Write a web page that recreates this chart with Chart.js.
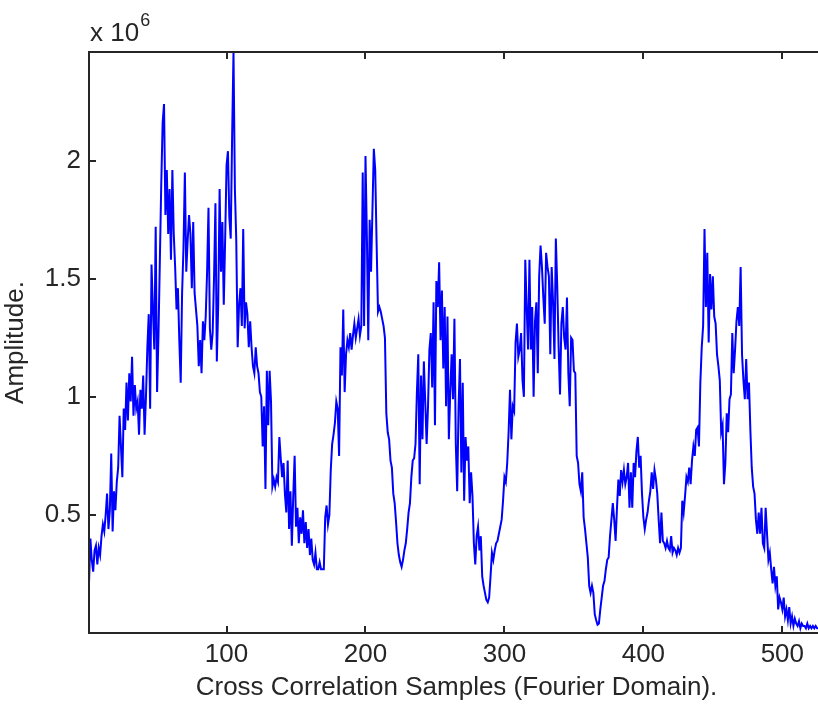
<!DOCTYPE html>
<html>
<head>
<meta charset="utf-8">
<script src="https://cdn.jsdelivr.net/npm/chart.js@4"></script>
<style>
  html, body { margin: 0; padding: 0; background: #fff; overflow: hidden; }
  canvas { display: block; }
</style>
</head>
<body>
<canvas id="xcorr" width="824" height="705"></canvas>
<script>
// Cross correlation amplitude per sample, in units of 10^6
const amplitude = [
  0.21, 0.40, 0.31, 0.26, 0.35, 0.37, 0.29, 0.36, 0.33, 0.41,
  0.46, 0.43, 0.50, 0.59, 0.44, 0.52, 0.76, 0.43, 0.60, 0.52,
  0.64, 0.70, 0.92, 0.79, 0.66, 0.95, 0.86, 1.06, 0.90, 1.10,
  0.98, 1.17, 0.92, 1.05, 0.95, 0.98, 0.84, 1.03, 0.95, 1.09,
  0.84, 1.00, 1.21, 1.35, 0.95, 1.56, 1.37, 1.20, 1.72, 1.02,
  1.26, 1.58, 1.90, 2.16, 2.24, 1.77, 1.96, 1.69, 1.88, 1.58,
  1.96, 1.69, 1.55, 1.37, 1.46, 1.24, 1.06, 1.44, 1.63, 1.95,
  1.53, 1.66, 1.77, 1.69, 1.46, 1.74, 1.44, 1.37, 1.30, 1.13,
  1.24, 1.10, 1.32, 1.24, 1.34, 1.53, 1.80, 1.29, 1.20, 1.27,
  1.51, 1.82, 1.15, 1.39, 1.88, 1.53, 1.74, 1.39, 1.67, 1.98,
  2.04, 1.76, 1.67, 2.10, 2.46, 1.88, 1.66, 1.21, 1.39, 1.46,
  1.30, 1.71, 1.29, 1.40, 1.35, 1.21, 1.32, 1.21, 1.13, 1.10,
  1.21, 1.13, 1.10, 1.02, 1.00, 0.79, 0.96, 0.61, 1.11, 0.88,
  1.11, 0.98, 0.62, 0.65, 0.62, 0.66, 0.64, 0.83, 0.74, 0.66,
  0.72, 0.59, 0.51, 0.73, 0.44, 0.60, 0.37, 0.58, 0.75, 0.45,
  0.53, 0.38, 0.49, 0.42, 0.52, 0.38, 0.47, 0.36, 0.44, 0.33,
  0.40, 0.31, 0.29, 0.34, 0.27, 0.27, 0.30, 0.27, 0.27, 0.27,
  0.49, 0.54, 0.46, 0.50, 0.69, 0.80, 0.84, 0.89, 0.98, 0.95,
  0.75, 1.21, 1.09, 1.37, 1.02, 1.18, 1.24, 1.21, 1.27, 1.20,
  1.26, 1.31, 1.25, 1.29, 1.33, 1.26, 1.30, 1.95, 1.30, 2.02,
  1.68, 1.24, 1.75, 1.53, 1.79, 2.05, 1.96, 1.65, 1.36, 1.38,
  1.36, 1.33, 1.30, 1.25, 0.93, 0.85, 0.82, 0.73, 0.70, 0.59,
  0.55, 0.47, 0.38, 0.33, 0.30, 0.28, 0.31, 0.35, 0.38, 0.44,
  0.51, 0.55, 0.66, 0.73, 0.74, 0.80, 1.02, 1.18, 0.63, 1.09,
  0.82, 1.15, 0.98, 0.80, 0.96, 1.20, 1.27, 1.04, 1.40, 0.88,
  1.49, 1.38, 1.57, 1.24, 1.45, 1.12, 1.38, 0.96, 1.34, 0.82,
  1.02, 1.18, 0.99, 1.33, 0.80, 0.60, 0.96, 1.16, 0.68, 1.06,
  0.56, 0.83, 0.73, 0.79, 0.55, 0.68, 0.58, 0.38, 0.29, 0.41,
  0.45, 0.35, 0.41, 0.24, 0.20, 0.17, 0.14, 0.13, 0.15, 0.24,
  0.34, 0.31, 0.35, 0.38, 0.39, 0.42, 0.45, 0.48, 0.56, 0.66,
  0.64, 0.72, 0.85, 1.03, 0.82, 0.96, 0.94, 1.23, 1.31, 1.17,
  1.20, 1.27, 1.07, 1.00, 1.58, 1.38, 1.20, 1.58, 1.20, 1.38,
  1.00, 1.32, 1.40, 1.10, 1.51, 1.64, 1.55, 1.42, 1.31, 1.61,
  1.55, 1.51, 1.18, 1.55, 1.40, 1.16, 1.67, 1.47, 1.21, 1.01,
  1.31, 1.38, 1.25, 1.20, 1.42, 1.10, 0.96, 1.25, 1.24, 1.11,
  1.10, 0.75, 0.72, 0.63, 0.60, 0.68, 0.49, 0.44, 0.38, 0.32,
  0.20, 0.17, 0.20, 0.17, 0.08, 0.055, 0.035, 0.04, 0.10, 0.15,
  0.20, 0.22, 0.27, 0.31, 0.32, 0.41, 0.48, 0.55, 0.48, 0.39,
  0.53, 0.65, 0.58, 0.69, 0.64, 0.69, 0.63, 0.66, 0.72, 0.53,
  0.68, 0.53, 0.72, 0.66, 0.77, 0.83, 0.70, 0.75, 0.59, 0.49,
  0.44, 0.48, 0.51, 0.56, 0.60, 0.68, 0.61, 0.69, 0.65, 0.59,
  0.48, 0.38, 0.51, 0.39, 0.38, 0.36, 0.39, 0.36, 0.35, 0.41,
  0.34, 0.36, 0.35, 0.33, 0.36, 0.34, 0.36, 0.56, 0.51, 0.58,
  0.66, 0.64, 0.70, 0.63, 0.73, 0.79, 0.75, 0.86, 0.87, 0.79,
  1.06, 1.21, 1.30, 1.71, 1.38, 1.61, 1.23, 1.52, 1.37, 1.51,
  1.34, 1.31, 1.18, 1.13, 1.07, 0.85, 0.88, 0.63, 0.72, 0.93,
  0.85, 0.99, 1.01, 1.27, 1.10, 1.20, 1.32, 1.38, 1.30, 1.55,
  1.18, 1.07, 0.99, 1.16, 0.99, 1.06, 0.86, 0.70, 0.62, 0.59,
  0.48, 0.42, 0.51, 0.42, 0.53, 0.38, 0.36, 0.53, 0.42, 0.31,
  0.34, 0.27, 0.21, 0.28, 0.20, 0.24, 0.10, 0.15, 0.13, 0.10,
  0.15, 0.07, 0.10, 0.055, 0.11, 0.04, 0.07, 0.03, 0.06, 0.04,
  0.03, 0.05, 0.02, 0.04, 0.03, 0.03, 0.02, 0.04, 0.02, 0.03,
  0.02, 0.03, 0.02, 0.03, 0.02, 0.02, 0.03, 0.02, 0.02, 0.03
];
const samples = amplitude.map((_, i) => i + 1);
const xTicks = [100, 200, 300, 400, 500];
const yTicks = [0.5, 1, 1.5, 2];

const FONT = "'Liberation Sans', Arial, Helvetica, sans-serif";
const AXIS = '#262626';

// matlab style box: frame on top/left/bottom and inward tick marks
const boxPlugin = {
  id: 'box',
  afterDraw(chart) {
    const { ctx, chartArea: { left, top, right, bottom }, scales: { x, y } } = chart;
    ctx.save();
    ctx.strokeStyle = AXIS;
    ctx.lineWidth = 2;
    ctx.beginPath();
    ctx.moveTo(right, top);
    ctx.lineTo(left, top);
    ctx.lineTo(left, bottom);
    ctx.lineTo(right, bottom);
    ctx.stroke();

    const len = 7;
    ctx.beginPath();
    xTicks.forEach(v => {
      const px = Math.round(x.getPixelForValue(v));
      ctx.moveTo(px, bottom);
      ctx.lineTo(px, bottom - len);
      ctx.moveTo(px, top);
      ctx.lineTo(px, top + len);
    });
    yTicks.forEach(v => {
      const py = Math.round(y.getPixelForValue(v));
      ctx.moveTo(left, py);
      ctx.lineTo(left + len, py);
    });
    ctx.stroke();

    // exponent label above the y axis
    ctx.fillStyle = AXIS;
    ctx.textBaseline = 'alphabetic';
    ctx.textAlign = 'left';
    ctx.font = '26px ' + FONT;
    ctx.fillText('x 10', left + 1, 41);
    const w = ctx.measureText('x 10').width;
    ctx.font = '18px ' + FONT;
    ctx.fillText('6', left + 1 + w + 1, 26);
    ctx.restore();
  }
};

new Chart(document.getElementById('xcorr'), {
  type: 'line',
  data: {
    datasets: [{
      data: amplitude.map((v, i) => ({ x: samples[i], y: v })),
      borderColor: '#0000ff',
      borderWidth: 2,
      pointRadius: 0,
      tension: 0,
      fill: false
    }]
  },
  options: {
    responsive: false,
    animation: false,
    devicePixelRatio: 1,
    layout: { padding: { top: 52, left: 0, right: 0, bottom: 0 } },
    plugins: { legend: { display: false }, tooltip: { enabled: false } },
    scales: {
      x: {
        type: 'linear',
        min: 1,
        max: 530,
        grid: { display: false, drawTicks: false },
        border: { display: false },
        afterBuildTicks: s => { s.ticks = xTicks.map(v => ({ value: v })); },
        afterFit: s => { s.height = 72; },
        ticks: {
          color: AXIS,
          font: { family: FONT, size: 26 },
          padding: 6,
          maxRotation: 0,
          callback: v => String(v)
        },
        title: {
          display: true,
          text: 'Cross Correlation Samples (Fourier Domain).',
          color: AXIS,
          font: { family: FONT, size: 26 },
          padding: { top: 0, bottom: 2 }
        }
      },
      y: {
        min: 0,
        max: 2.46,
        grid: { display: false, drawTicks: false },
        border: { display: false },
        afterBuildTicks: s => { s.ticks = yTicks.map(v => ({ value: v })); },
        afterFit: s => { s.width = 89; },
        ticks: {
          color: AXIS,
          font: { family: FONT, size: 26 },
          padding: 8,
          callback: v => String(v)
        },
        title: {
          display: true,
          text: 'Amplitude.',
          color: AXIS,
          font: { family: FONT, size: 26 },
          padding: { top: 0, bottom: 10 }
        }
      }
    }
  },
  plugins: [boxPlugin]
});
</script>
</body>
</html>
